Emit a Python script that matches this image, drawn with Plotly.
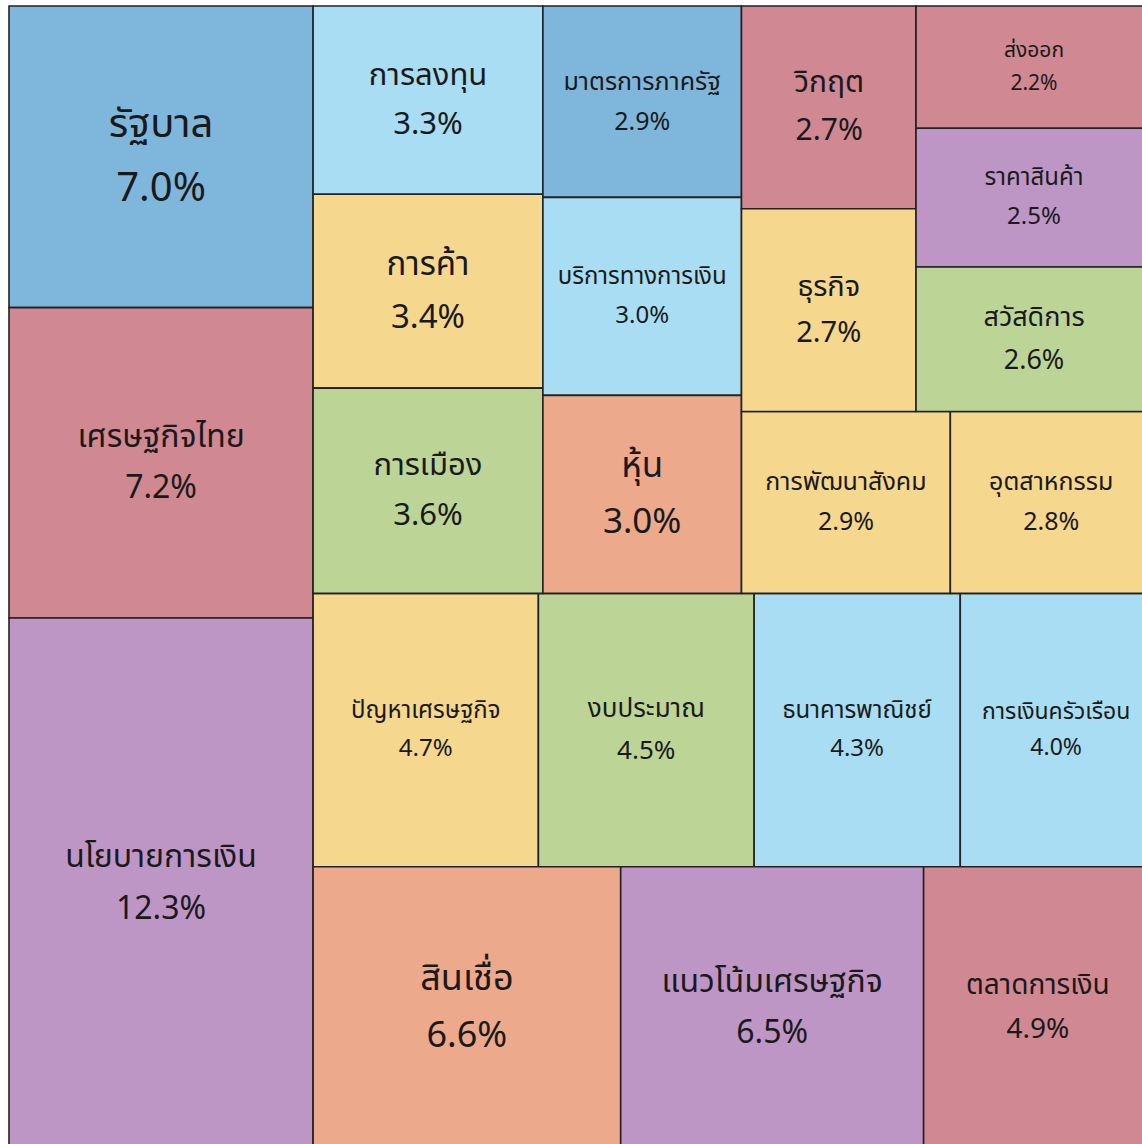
import plotly.graph_objects as go

# ---- data ----
labels = ["รัฐบาล", "เศรษฐกิจไทย", "นโยบายการเงิน",
          "การลงทุน", "การค้า", "การเมือง",
          "มาตรการภาครัฐ", "บริการทางการเงิน", "หุ้น",
          "วิกฤต", "ธุรกิจ",
          "ส่งออก", "ราคาสินค้า", "สวัสดิการ",
          "การพัฒนาสังคม", "อุตสาหกรรม",
          "ปัญหาเศรษฐกิจ", "งบประมาณ", "ธนาคารพาณิชย์", "การเงินครัวเรือน",
          "สินเชื่อ", "แนวโน้มเศรษฐกิจ", "ตลาดการเงิน"]
values = [7.0, 7.2, 12.3,
          3.3, 3.4, 3.6,
          2.9, 3.0, 3.0,
          2.7, 2.7,
          2.2, 2.5, 2.6,
          2.9, 2.8,
          4.7, 4.5, 4.3, 4.0,
          6.6, 6.5, 4.9]

BLUE, PINK, PURPLE, LBLUE = "#7fb7dc", "#d08893", "#be96c6", "#a8ddf3"
YELLOW, GREEN, ORANGE = "#f5d78e", "#bcd597", "#eca98b"
colors = [BLUE, PINK, PURPLE,
          LBLUE, YELLOW, GREEN,
          BLUE, LBLUE, ORANGE,
          PINK, YELLOW,
          PINK, PURPLE, GREEN,
          YELLOW, YELLOW,
          YELLOW, GREEN, LBLUE, LBLUE,
          ORANGE, PURPLE, PINK]

font_sizes = [40, 32, 32,
              31, 33, 31,
              25, 24, 35,
              30, 29,
              21, 24, 27,
              25, 25,
              24, 26, 24, 23,
              36, 32, 28]

# tiling structure (invisible grouping nodes)
leaf_parent = ["L", "L", "L",
               "C1", "C1", "C1",
               "C2", "C2", "C2",
               "A", "A",
               "B", "B", "B",
               "D", "D",
               "M", "M", "M", "M",
               "R", "R", "R"]
group_ids = ["root", "L", "RR", "T", "C1", "C2", "RB", "U", "A", "B", "D", "M", "R"]
group_parents = ["", "root", "root", "RR", "T", "T", "T", "RB", "U", "U", "RB", "RR", "RR"]

# ---- build treemap arrays ----
ids = list(group_ids) + [f"leaf{i}" for i in range(len(labels))]
parents = list(group_parents) + leaf_parent
node_labels = [""] * len(group_ids) + labels
node_values = [0] * len(group_ids) + values
node_colors = ["#ffffff"] * len(group_ids) + colors
LS = 1.23
texts = [""] * len(group_ids) + [
    f"<span style='font-size:{s}px'>{lab}</span><br><span style='font-size:{s}px'>{v:.1f}%</span>"
    for lab, v, s in zip(labels, values, font_sizes)
]
base_sizes = [12] * len(group_ids) + [round(s * LS, 1) for s in font_sizes]
line_widths = [0] * len(group_ids) + [1.6] * len(labels)

fig = go.Figure(go.Treemap(
    ids=ids,
    parents=parents,
    labels=node_labels,
    values=node_values,
    branchvalues="remainder",
    sort=False,
    text=texts,
    texttemplate="%{text}",
    textposition="middle center",
    textfont=dict(size=base_sizes, color="#1a1a1a",
                  family="Noto Sans Thai, Noto Sans, sans-serif"),
    marker=dict(colors=node_colors,
                line=dict(color="#222222", width=line_widths),
                pad=dict(t=0, l=0, r=0, b=0),
                depthfade=False),
    tiling=dict(packing="slice-dice", pad=0),
    pathbar=dict(visible=False),
    hoverinfo="skip",
    domain=dict(x=[0, 1], y=[0, 1]),
))

fig.update_layout(
    width=1152, height=1148,
    margin=dict(l=9, r=0, t=6, b=0),
    paper_bgcolor="white",
    showlegend=False,
)

fig.write_html("out.html",
               config={"displayModeBar": False},
               post_script="document.body.style.margin='0';document.body.style.overflow='hidden';")
